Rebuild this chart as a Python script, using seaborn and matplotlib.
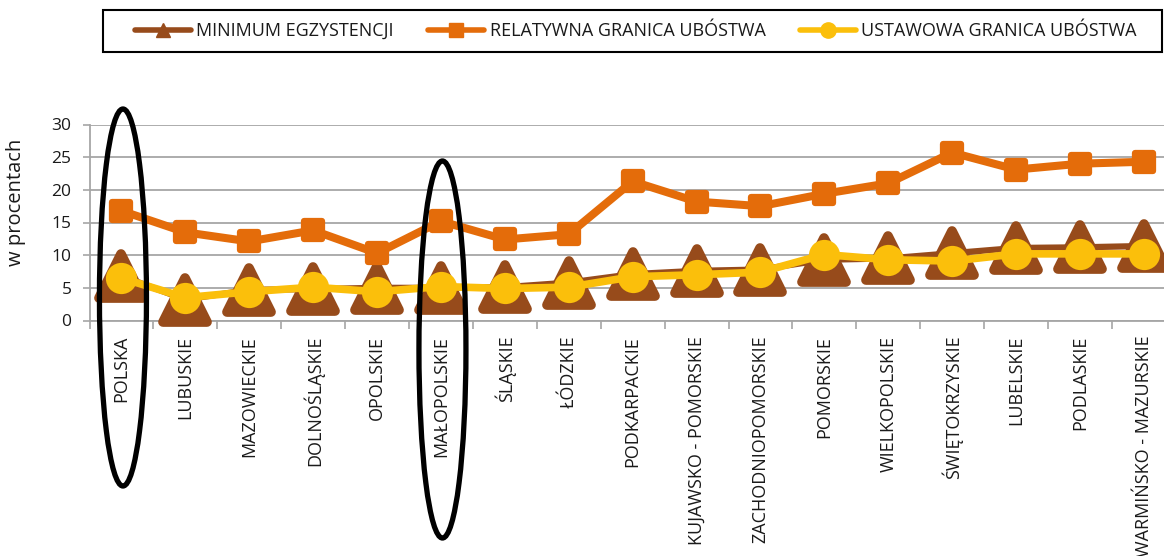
import matplotlib
matplotlib.use("Agg")
import pandas as pd
import matplotlib.pyplot as plt
import seaborn as sns
from matplotlib.lines import Line2D
from matplotlib.markers import MarkerStyle
from matplotlib.patches import Ellipse, Rectangle

# dane (w procentach)
regions = ["POLSKA", "LUBUSKIE", "MAZOWIECKIE", "DOLNOŚLĄSKIE", "OPOLSKIE",
           "MAŁOPOLSKIE", "ŚLĄSKIE", "ŁÓDZKIE", "PODKARPACKIE",
           "KUJAWSKO - POMORSKIE", "ZACHODNIOPOMORSKIE", "POMORSKIE",
           "WIELKOPOLSKIE", "ŚWIĘTOKRZYSKIE", "LUBELSKIE", "PODLASKIE",
           "WARMIŃSKO - MAZURSKIE"]
minimum = [6.8, 3.2, 4.7, 4.8, 5.0, 5.0, 5.1, 5.8, 7.1, 7.6, 7.8,
           9.3, 9.5, 10.3, 11.1, 11.2, 11.4]
relatywna = [16.8, 13.5, 12.1, 13.8, 10.3, 15.2, 12.4, 13.2, 21.3, 18.2, 17.5,
             19.4, 21.0, 25.7, 23.1, 24.0, 24.3]
ustawowa = [6.5, 3.5, 4.4, 5.1, 4.4, 5.2, 4.9, 5.1, 6.7, 7.0, 7.4,
            10.1, 9.3, 9.1, 10.2, 10.2, 10.2]
series_names = ["MINIMUM EGZYSTENCJI", "RELATYWNA GRANICA UBÓSTWA", "USTAWOWA GRANICA UBÓSTWA"]
circled = ["POLSKA", "MAŁOPOLSKIE"]

df = pd.DataFrame({"pos": range(len(regions)), "region": regions,
                   "minimum": minimum, "relatywna": relatywna, "ustawowa": ustawowa})

BROWN = "#974B1B"
ORANGE = "#E46C0A"
YELLOW = "#FBBF0B"
GRID = "#A6A6A6"
TXT = "#1a1a1a"

sns.set_theme(style="white")
plt.rcParams['font.family'] = ['Open Sans', 'DejaVu Sans']

W, H = 1164, 556
fig = plt.figure(figsize=(W / 100, H / 100), dpi=100)
ax = fig.add_axes([89.5 / W, 1 - 320.5 / H, 17 * 63.9 / W, 196 / H])

sns.lineplot(data=df, x="pos", y="minimum", ax=ax, color=BROWN, linewidth=4.5,
             marker=MarkerStyle("^", joinstyle="round"), markersize=31,
             markeredgewidth=7, markeredgecolor=BROWN, markerfacecolor=BROWN,
             clip_on=False, zorder=3)
sns.lineplot(data=df, x="pos", y="relatywna", ax=ax, color=ORANGE, linewidth=5.8,
             marker=MarkerStyle("s", joinstyle="round"), markersize=13.5,
             markeredgewidth=4.5, markeredgecolor=ORANGE, markerfacecolor=ORANGE,
             clip_on=False, zorder=4)
sns.lineplot(data=df, x="pos", y="ustawowa", ax=ax, color=YELLOW, linewidth=5.5,
             marker="o", markersize=22.5, markeredgewidth=0,
             markerfacecolor=YELLOW, clip_on=False, zorder=5)

ax.set_xlim(-0.5, len(regions) - 0.5)
ax.set_ylim(0, 30)
ax.set_yticks(range(0, 31, 5))
ax.set_xticks(df["pos"])
ax.set_xticklabels(regions, rotation=90, va="top", ha="center", fontsize=13, color=TXT)
ax.set_xticks([p - 0.5 for p in df["pos"]] + [len(regions) - 0.5], minor=True)
ax.tick_params(axis="x", which="major", length=0, pad=11)
ax.tick_params(axis="x", which="minor", length=6, width=1.2, color=GRID, direction="out", bottom=True)
ax.tick_params(axis="y", length=5, width=1.2, color=GRID, pad=8, labelsize=12.5, left=True,
               labelcolor=TXT)
ax.set_xlabel("")
ax.set_ylabel("w procentach", fontsize=14.5, color=TXT)
ax.yaxis.set_label_coords(-0.0585, 0.605)
ax.yaxis.grid(True, color=GRID, linewidth=1.3)
ax.set_axisbelow(True)
for s in ["top", "right"]:
    ax.spines[s].set_visible(False)
for s in ["left", "bottom"]:
    ax.spines[s].set_color(GRID)
    ax.spines[s].set_linewidth(1.3)

# elipsy wokół wyróżnionych kategorii
ell_y = {"POLSKA": 297.5, "MAŁOPOLSKIE": 349.5}
for name in circled:
    xc = ax.transData.transform((regions.index(name), 0))[0]
    e = Ellipse((xc / W + 1.5 / W, 1 - ell_y[name] / H), 47 / W, 377 / H,
                transform=fig.transFigure, fill=False, edgecolor="black",
                linewidth=3.8, zorder=10)
    fig.add_artist(e)

# legenda w ramce u góry
fig.add_artist(Rectangle((103 / W, 1 - 52 / H), 1059 / W, 42 / H, transform=fig.transFigure,
                         fill=False, edgecolor="black", linewidth=1.5))
handles = [
    Line2D([], [], color=BROWN, lw=4, marker="^", ms=10, mec=BROWN),
    Line2D([], [], color=ORANGE, lw=4, marker="s", ms=10, mec=ORANGE),
    Line2D([], [], color=YELLOW, lw=4, marker="o", ms=11, mec=YELLOW),
]
fig.legend(handles, series_names, loc="center left", bbox_to_anchor=(135 / W, 1 - 31 / H),
           ncol=3, frameon=False, fontsize=13, handlelength=3.1, handletextpad=0.3,
           columnspacing=1.9, borderpad=0, borderaxespad=0, labelcolor=TXT)

fig.savefig("out.png", dpi=100)
